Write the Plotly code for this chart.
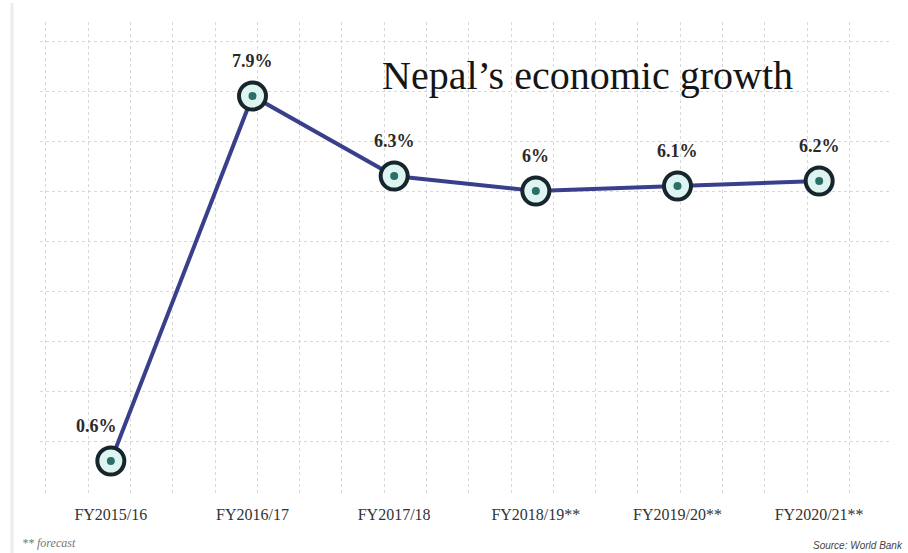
import plotly.graph_objects as go

categories = ["FY2015/16", "FY2016/17", "FY2017/18", "FY2018/19**", "FY2019/20**", "FY2020/21**"]
growth = [0.6, 7.9, 6.3, 6.0, 6.1, 6.2]
labels = ["0.6%", "7.9%", "6.3%", "6%", "6.1%", "6.2%"]

W, H = 908, 553
ML, MR, MT, MB = 40, 18, 22, 58

xs = list(range(len(categories)))

fig = go.Figure()
fig.add_trace(go.Scatter(
    x=xs, y=growth, mode="lines",
    line=dict(color="#3a3f8c", width=4),
    hoverinfo="skip", showlegend=False,
))
fig.add_trace(go.Scatter(
    x=xs, y=growth, mode="markers",
    marker=dict(size=27, color="#def4f1", line=dict(color="#16262c", width=4)),
    hoverinfo="skip", showlegend=False,
))
fig.add_trace(go.Scatter(
    x=xs, y=growth, mode="markers",
    marker=dict(size=8, color="#2a6f68"),
    hoverinfo="skip", showlegend=False,
))

for i, (xv, yv, t) in enumerate(zip(xs, growth, labels)):
    fig.add_annotation(
        x=xv, y=yv, text=t, showarrow=False,
        xshift=-14 if i == 0 else 0, yshift=35,
        font=dict(family="Liberation Serif", size=18, color="#2a2a2a", weight="bold"),
    )

fig.add_annotation(
    xref="paper", yref="paper", x=(587 - ML) / (W - ML - MR), y=(H - MB - 75) / (H - MT - MB),
    text="Nepal\u2019s economic growth", showarrow=False,
    font=dict(family="Liberation Serif", size=40, color="#151515"),
    xanchor="center", yanchor="middle",
)
fig.add_annotation(
    xref="paper", yref="paper", x=(20 - ML) / (W - ML - MR), y=(H - MB - 543) / (H - MT - MB),
    text="<i>** forecast</i>", showarrow=False,
    font=dict(family="Liberation Serif", size=12, color="#777"),
    xanchor="left", yanchor="middle",
)
fig.add_annotation(
    xref="paper", yref="paper", x=(905 - ML) / (W - ML - MR), y=(H - MB - 545) / (H - MT - MB),
    text="<i>Source: World Bank</i>", showarrow=False,
    font=dict(family="Liberation Sans", size=10, color="#444"),
    xanchor="right", yanchor="middle",
)

fig.add_shape(
    type="line", xref="paper", yref="paper",
    x0=(12 - ML) / (W - ML - MR), x1=(12 - ML) / (W - ML - MR),
    y0=1.04, y1=-0.13,
    line=dict(color="#ececec", width=3),
)

fig.update_xaxes(
    range=[-0.5, 5.5],
    tickvals=xs, ticktext=categories,
    showgrid=False, zeroline=False, showline=False, ticks="",
    tickfont=dict(family="Liberation Serif", size=16, color="#333"),
    ticklabelstandoff=8,
    minor=dict(tick0=-0.16, dtick=0.2985, showgrid=True, gridcolor="#d8d8d8",
               griddash="dot", gridwidth=1),
)
fig.update_yaxes(
    range=[-0.08, 9.38],
    tickvals=[1, 2, 3, 4, 5, 6, 7, 8, 9],
    showticklabels=False, zeroline=False, showline=False, ticks="",
    showgrid=True, gridcolor="#d8d8d8", griddash="dot", gridwidth=1,
)

fig.update_layout(
    width=W, height=H,
    margin=dict(l=ML, r=MR, t=MT, b=MB),
    paper_bgcolor="white", plot_bgcolor="white",
    showlegend=False,
)

fig.write_html("out.html")
